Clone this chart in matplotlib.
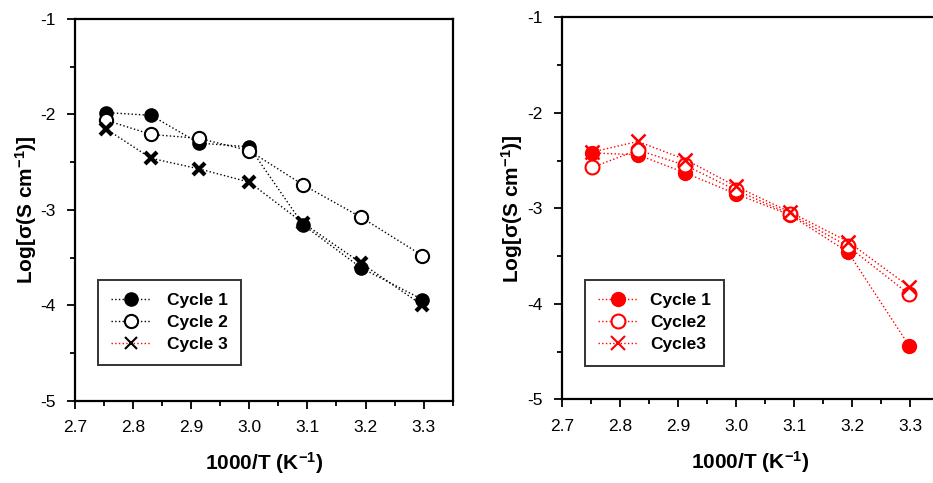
import matplotlib.pyplot as plt
from matplotlib.lines import Line2D
from matplotlib.ticker import MultipleLocator

plt.rcParams['font.family'] = ['Liberation Sans', 'DejaVu Sans']
plt.rcParams['mathtext.fontset'] = 'custom'
plt.rcParams['mathtext.rm'] = 'Liberation Sans'
plt.rcParams['mathtext.it'] = 'Liberation Sans:italic'
plt.rcParams['mathtext.bf'] = 'Liberation Sans:bold'

# 1000/T values
x = [2.753, 2.831, 2.913, 3.0, 3.093, 3.193, 3.298]

# left panel
left_c1 = [-1.98, -2.01, -2.30, -2.34, -3.16, -3.61, -3.94]
left_c2 = [-2.06, -2.21, -2.25, -2.38, -2.74, -3.08, -3.48]
left_c3 = [-2.15, -2.46, -2.57, -2.71, -3.14, -3.56, -4.00]

# right panel
right_c1 = [-2.42, -2.44, -2.63, -2.85, -3.07, -3.46, -4.44]
right_c2 = [-2.57, -2.39, -2.55, -2.81, -3.06, -3.40, -3.90]
right_c3 = [-2.41, -2.30, -2.49, -2.77, -3.04, -3.35, -3.82]

left_labels = ["Cycle 1", "Cycle 2", "Cycle 3"]
right_labels = ["Cycle 1", "Cycle2", "Cycle3"]

W, H = 933, 483
fig = plt.figure(figsize=(W / 100, H / 100), dpi=100)


def make_axes(l, r, t, b):
    return fig.add_axes([l / W, 1 - b / H, (r - l) / W, (b - t) / H])


ax1 = make_axes(75, 452.7, 19, 400.7)
ax2 = make_axes(561.7, 939.4, 17.3, 399.3)


def style(ax):
    ax.set_xlim(2.7, 3.35)
    ax.set_ylim(-5, -1)
    ax.xaxis.set_major_locator(MultipleLocator(0.1))
    ax.xaxis.set_minor_locator(MultipleLocator(0.05))
    ax.yaxis.set_major_locator(MultipleLocator(1))
    ax.yaxis.set_minor_locator(MultipleLocator(0.5))
    ax.xaxis.set_major_formatter(plt.FormatStrFormatter('%.1f'))
    ax.yaxis.set_major_formatter(plt.FormatStrFormatter('%d'))
    ax.tick_params(which='both', direction='out', top=False, right=False,
                   labelsize=12.5, width=1.3)
    ax.tick_params(which='major', length=6, pad=8)
    ax.tick_params(which='minor', length=3.5)
    for s in ax.spines.values():
        s.set_linewidth(1.6)
    ax.set_xlabel("1000/T (K$^{\\mathbf{-1}}$)", fontsize=15, fontweight='bold', labelpad=11)
    ax.set_ylabel("Log[σ(S cm$^{\\mathbf{-1}}$)]", fontsize=15, fontweight='bold', labelpad=1)


style(ax1)
style(ax2)

# left panel, black
ax1.plot(x, left_c1, ':', color='black', lw=1, marker='o', ms=9.5, mfc='black', mec='black')
ax1.plot(x, left_c2, ':', color='black', lw=1, marker='o', ms=9.5, mfc='white', mec='black', mew=1.5)
ax1.plot(x, left_c3, ':', color='black', lw=1, marker='x', ms=9, mec='black', mew=3)

h1 = [
    Line2D([], [], ls=':', color='black', lw=1, marker='o', ms=9.5, mfc='black', mec='black'),
    Line2D([], [], ls=':', color='black', lw=1, marker='o', ms=9.5, mfc='white', mec='black', mew=1.5),
    Line2D([], [], ls=':', color='red', lw=1, marker='x', ms=9, mec='black', mew=1.5),
]
leg1 = ax1.legend(h1, left_labels, loc='upper left', bbox_to_anchor=(0.062, 0.316),
                  borderaxespad=0, fancybox=False, edgecolor='#333333', framealpha=1,
                  prop={'weight': 'bold', 'size': 12.5}, handlelength=2.3,
                  handletextpad=0.9, labelspacing=0.4, borderpad=0.75)
leg1.get_frame().set_linewidth(1.4)

# right panel, red
red = '#ff0000'
ax2.plot(x, right_c1, ':', color=red, lw=1, marker='o', ms=10, mfc=red, mec=red)
ax2.plot(x, right_c2, ':', color=red, lw=1, marker='o', ms=10, mfc='white', mec=red, mew=1.5)
ax2.plot(x, right_c3, ':', color=red, lw=1, marker='x', ms=10, mec=red, mew=1.8)

h2 = [
    Line2D([], [], ls=':', color=red, lw=1, marker='o', ms=10, mfc=red, mec=red),
    Line2D([], [], ls=':', color=red, lw=1, marker='o', ms=10, mfc='white', mec=red, mew=1.5),
    Line2D([], [], ls=':', color=red, lw=1, marker='x', ms=10, mec=red, mew=1.5),
]
leg2 = ax2.legend(h2, right_labels, loc='upper left', bbox_to_anchor=(0.062, 0.312),
                  borderaxespad=0, fancybox=False, edgecolor='#333333', framealpha=1,
                  prop={'weight': 'bold', 'size': 12.5}, handlelength=2.3,
                  handletextpad=0.7, labelspacing=0.4, borderpad=0.75)
leg2.get_frame().set_linewidth(1.4)

fig.savefig("out.png", dpi=100)
